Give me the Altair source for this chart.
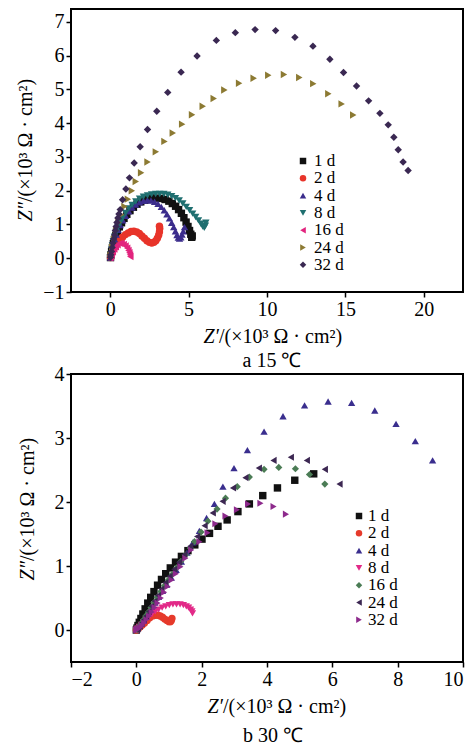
import altair as alt
import pandas as pd

FONT = "Liberation Serif"
LABELS = ["1 d", "2 d", "4 d", "8 d", "16 d", "24 d", "32 d"]

# ---------- panel a: 15 °C ----------
A1_x = [0.02, 0.05, 0.09, 0.14, 0.2, 0.27, 0.36, 0.46, 0.58, 0.72, 0.88, 1.06, 1.26, 1.48, 1.71, 1.95, 2.2, 2.45, 2.7, 2.95,
        3.25, 3.5, 3.74, 3.96, 4.17, 4.36, 4.54, 4.7, 4.84, 4.96, 5.06, 5.14, 5.2, 5.23]
A1_y = [0.02, 0.1, 0.2, 0.31, 0.43, 0.55, 0.68, 0.8, 0.93, 1.05, 1.18, 1.3, 1.41, 1.51, 1.6, 1.67, 1.72, 1.76, 1.78, 1.78,
        1.77, 1.74, 1.69, 1.62, 1.54, 1.44, 1.33, 1.2, 1.07, 0.94, 0.82, 0.71, 0.62, 0.66]
A2_x = [0.02, 0.05, 0.1, 0.17, 0.26, 0.37, 0.5, 0.64, 0.8, 0.97, 1.15, 1.33, 1.51, 1.69, 1.86, 2.02, 2.18, 2.34, 2.5, 2.65,
        2.79, 2.91, 3.01, 3.09, 3.14, 3.16, 3.14]
A2_y = [0.02, 0.08, 0.15, 0.23, 0.31, 0.39, 0.47, 0.55, 0.63, 0.7, 0.75, 0.79, 0.8, 0.78, 0.73, 0.66, 0.59, 0.52, 0.47, 0.45,
        0.47, 0.52, 0.59, 0.68, 0.78, 0.88, 0.95]
A4_x = [0.02, 0.05, 0.09, 0.14, 0.2, 0.28, 0.38, 0.5, 0.64, 0.8, 0.98, 1.18, 1.4, 1.63, 1.87, 2.12, 2.37, 2.6, 2.83, 3.05,
        3.26, 3.45, 3.62, 3.78, 3.92, 4.05, 4.16, 4.26, 4.34, 4.42, 4.5, 4.58, 4.66, 4.74]
A4_y = [0.02, 0.1, 0.2, 0.31, 0.43, 0.56, 0.7, 0.84, 0.98, 1.12, 1.26, 1.39, 1.5, 1.59, 1.66, 1.7, 1.72, 1.71, 1.67, 1.61,
        1.52, 1.42, 1.3, 1.18, 1.05, 0.92, 0.8, 0.69, 0.61, 0.58, 0.62, 0.7, 0.8, 0.92]
A8_x = [0.02, 0.05, 0.09, 0.14, 0.2, 0.28, 0.38, 0.5, 0.64, 0.8, 0.98, 1.18, 1.4, 1.63, 1.87, 2.12, 2.38, 2.64, 2.9, 3.16,
        3.42, 3.67, 3.92, 4.16, 4.4, 4.63, 4.85, 5.06, 5.26, 5.45, 5.63, 5.78, 5.9, 6.0, 6.07, 6.1]
A8_y = [0.02, 0.12, 0.25, 0.38, 0.5, 0.64, 0.78, 0.92, 1.06, 1.2, 1.34, 1.47, 1.58, 1.68, 1.76, 1.82, 1.86, 1.89, 1.9, 1.9,
        1.9, 1.88, 1.84, 1.78, 1.71, 1.62, 1.52, 1.42, 1.32, 1.22, 1.12, 1.02, 0.94, 0.9, 0.96, 1.05]
A16_x = [0.01, 0.05, 0.1, 0.17, 0.26, 0.36, 0.47, 0.6, 0.73, 0.86, 0.98, 1.08, 1.16, 1.22, 1.26, 1.28]
A16_y = [0.01, 0.06, 0.12, 0.19, 0.27, 0.34, 0.4, 0.44, 0.44, 0.41, 0.36, 0.3, 0.23, 0.16, 0.1, 0.05]
A24_x = [0.04, 0.13, 0.25, 0.38, 0.53, 0.7, 0.91, 1.13, 1.38, 1.63, 1.97, 2.38, 2.91, 3.46, 3.99, 4.59, 5.22, 5.9, 6.6, 7.28,
         8.22, 9.15, 10.08, 11.08, 12.06, 12.95, 13.91, 14.76, 15.5]
A24_y = [0.1, 0.33, 0.57, 0.82, 1.06, 1.29, 1.53, 1.75, 2.0, 2.27, 2.53, 2.85, 3.15, 3.46, 3.71, 3.97, 4.25, 4.5, 4.73, 4.98,
         5.18, 5.33, 5.42, 5.44, 5.35, 5.17, 4.87, 4.57, 4.24]
A32_x = [0.02, 0.04, 0.08, 0.12, 0.17, 0.22, 0.28, 0.33, 0.38, 0.43, 0.49, 0.56, 0.64, 0.79, 1.0, 1.23, 1.53, 1.91, 2.38, 2.97,
         3.67, 4.52, 5.54, 6.77, 7.98, 9.24, 10.55, 11.78, 12.93, 14.01, 14.88, 15.71, 16.48, 17.2, 17.73, 18.09, 18.37, 18.68, 19.0]
A32_y = [0.03, 0.1, 0.2, 0.32, 0.45, 0.57, 0.69, 0.82, 0.94, 1.06, 1.19, 1.31, 1.44, 1.73, 2.05, 2.38, 2.82, 3.3, 3.81, 4.35,
         4.91, 5.51, 5.99, 6.45, 6.68, 6.77, 6.74, 6.54, 6.28, 5.89, 5.5, 5.1, 4.66, 4.29, 3.95, 3.58, 3.21, 2.85, 2.6]

# ---------- panel b: 30 °C ----------
B1_x = [0.0, 0.02, 0.05, 0.09, 0.14, 0.2, 0.27, 0.35, 0.44, 0.54, 0.65, 0.77, 0.9, 1.04, 1.2, 1.38, 1.58, 1.79, 2.01, 2.24,
        2.5, 2.78, 3.11, 3.46, 3.87, 4.32, 4.85, 5.43]
B1_y = [0.0, 0.03, 0.07, 0.12, 0.18, 0.25, 0.33, 0.42, 0.51, 0.6, 0.7, 0.79, 0.88, 0.97, 1.06, 1.15, 1.24, 1.33, 1.42, 1.51,
        1.62, 1.72, 1.85, 1.97, 2.1, 2.22, 2.34, 2.44]
B2_x = [0.0, 0.03, 0.07, 0.12, 0.18, 0.25, 0.33, 0.41, 0.5, 0.58, 0.66, 0.73, 0.8, 0.87, 0.94, 1.0, 1.04, 1.07, 1.09]
B2_y = [0.0, 0.01, 0.03, 0.05, 0.08, 0.11, 0.15, 0.19, 0.22, 0.23, 0.23, 0.22, 0.2, 0.17, 0.15, 0.13, 0.13, 0.15, 0.18]
B4_x = [0.01, 0.04, 0.09, 0.15, 0.22, 0.3, 0.38, 0.47, 0.57, 0.68, 0.8, 0.93, 1.07, 1.22, 1.38, 1.55, 1.73, 1.93, 2.15, 2.39,
        2.65, 2.99, 3.4, 3.91, 4.49, 5.15, 5.87, 6.59, 7.3, 7.95, 8.54, 9.07]
B4_y = [0.01, 0.03, 0.06, 0.1, 0.15, 0.21, 0.28, 0.35, 0.43, 0.52, 0.61, 0.71, 0.82, 0.94, 1.07, 1.21, 1.37, 1.55, 1.75, 1.97,
        2.24, 2.53, 2.81, 3.1, 3.34, 3.51, 3.57, 3.55, 3.43, 3.22, 2.95, 2.65]
B8_x = [0.0, 0.04, 0.09, 0.15, 0.22, 0.3, 0.39, 0.48, 0.58, 0.68, 0.79, 0.9, 1.01, 1.12, 1.23, 1.34, 1.44, 1.53, 1.6, 1.66,
        1.7, 1.72]
B8_y = [0.0, 0.02, 0.05, 0.08, 0.12, 0.16, 0.2, 0.25, 0.29, 0.32, 0.35, 0.37, 0.39, 0.4, 0.4, 0.4, 0.39, 0.37, 0.35, 0.32,
        0.29, 0.26]
B16_x = [0.02, 0.05, 0.1, 0.16, 0.22, 0.29, 0.37, 0.45, 0.54, 0.64, 0.75, 0.86, 0.98, 1.1, 1.23, 1.36, 1.5, 1.65, 1.78, 1.98,
         2.19, 2.47, 2.73, 3.09, 3.46, 3.91, 4.36, 4.87, 5.3, 5.77]
B16_y = [0.01, 0.03, 0.07, 0.11, 0.16, 0.22, 0.28, 0.35, 0.43, 0.51, 0.6, 0.69, 0.78, 0.87, 0.97, 1.07, 1.17, 1.28, 1.38, 1.53,
         1.7, 1.89, 2.06, 2.24, 2.39, 2.51, 2.54, 2.52, 2.43, 2.28]
B24_x = [0.02, 0.05, 0.1, 0.16, 0.23, 0.3, 0.38, 0.46, 0.56, 0.66, 0.77, 0.89, 1.02, 1.16, 1.31, 1.47, 1.65, 1.86, 2.09, 2.34,
         2.64, 2.96, 3.34, 3.75, 4.2, 4.73, 5.22, 5.77, 6.22]
B24_y = [0.01, 0.03, 0.06, 0.11, 0.16, 0.22, 0.29, 0.37, 0.45, 0.54, 0.64, 0.74, 0.84, 0.95, 1.06, 1.18, 1.31, 1.46, 1.63, 1.83,
         2.01, 2.22, 2.38, 2.53, 2.65, 2.7, 2.65, 2.51, 2.28]
B32_x = [0.0, 0.02, 0.06, 0.11, 0.17, 0.24, 0.31, 0.39, 0.47, 0.56, 0.65, 0.75, 0.85, 0.96, 1.08, 1.21, 1.35, 1.5, 1.68, 1.93,
         2.18, 2.42, 2.73, 3.08, 3.42, 3.8, 4.2, 4.58]
B32_y = [0.0, 0.01, 0.02, 0.04, 0.07, 0.11, 0.16, 0.22, 0.28, 0.35, 0.42, 0.5, 0.59, 0.68, 0.78, 0.88, 0.99, 1.12, 1.25, 1.38,
         1.52, 1.66, 1.78, 1.88, 1.97, 1.98, 1.93, 1.81]

A_COLORS = ["#111111", "#e8342a", "#3b2c8c", "#1f6f70", "#e2247e", "#8c7a33", "#3a2852"]
A_SHAPES = ["square", "circle", "triangle-up", "triangle-down", "triangle-left", "triangle-right", "diamond"]
A_SIZES = [55, 55, 75, 75, 70, 100, 95]
B_COLORS = ["#111111", "#e63a2b", "#3a2e8e", "#e22a88", "#4b7c55", "#3c2752", "#8d2a8c"]
B_SHAPES = ["square", "circle", "triangle-up", "triangle-down", "diamond", "triangle-left", "triangle-right"]
B_SIZES = [55, 50, 110, 70, 85, 95, 95]

A_XTICKS = [0, 5, 10, 15, 20]
A_YTICKS = [-1, 0, 1, 2, 3, 4, 5, 6, 7]
B_XTICKS = [-2, 0, 2, 4, 6, 8, 10]
B_YTICKS = [0, 1, 2, 3, 4]

FS = 20
LFS = 17


def table(series):
    rows = []
    for lab, xs, ys in series:
        for a, b in zip(xs, ys):
            rows.append({"series": lab, "x": a, "y": b})
    return pd.DataFrame(rows)


dfA = table(zip(LABELS, [A1_x, A2_x, A4_x, A8_x, A16_x, A24_x, A32_x],
                [A1_y, A2_y, A4_y, A8_y, A16_y, A24_y, A32_y]))
dfB = table(zip(LABELS, [B1_x, B2_x, B4_x, B8_x, B16_x, B24_x, B32_x],
                [B1_y, B2_y, B4_y, B8_y, B16_y, B24_y, B32_y]))
dfL = pd.DataFrame({"series": LABELS})


def axis(ticks):
    return alt.Axis(values=ticks, title=None, grid=False, domain=False, tickSize=5, tickWidth=1.5,
                    tickColor="black", labelColor="black", labelFont=FONT, labelFontSize=FS,
                    labelPadding=2, format="d")


def txt(s, x, y, angle=0, align="center", italic=False):
    return alt.Chart(pd.DataFrame({"t": [s]})).mark_text(
        font=FONT, fontSize=FS, fontStyle="italic" if italic else "normal",
        align=align, baseline="middle", angle=angle, color="black"
    ).encode(text="t:N", x=alt.value(x), y=alt.value(y))


def panel(df, colors, shapes, sizes, xdom, xticks, ydom, yticks, sx, tx, y0, y1):
    cscale = alt.Scale(domain=LABELS, range=colors)
    sscale = alt.Scale(domain=LABELS, range=shapes)
    pts = alt.Chart(df).mark_point(filled=True, opacity=1, strokeWidth=0).encode(
        x=alt.X("x:Q", scale=alt.Scale(domain=xdom, nice=False, zero=False), axis=axis(xticks)),
        y=alt.Y("y:Q", scale=alt.Scale(domain=ydom, nice=False, zero=False), axis=axis(yticks)),
        color=alt.Color("series:N", scale=cscale, legend=None),
        shape=alt.Shape("series:N", scale=sscale, legend=None),
        size=alt.Size("series:N", scale=alt.Scale(domain=LABELS, range=sizes), legend=None),
    )
    rows = alt.Y("series:N", scale=alt.Scale(type="point", domain=LABELS, range=[y0, y1], padding=0), axis=None)
    lsym = alt.Chart(dfL).mark_point(filled=True, opacity=1, strokeWidth=0, size=42).encode(
        x=alt.value(sx), y=rows,
        color=alt.Color("series:N", scale=cscale, legend=None),
        shape=alt.Shape("series:N", scale=sscale, legend=None),
    )
    ltxt = alt.Chart(dfL).mark_text(font=FONT, fontSize=LFS, align="left", baseline="middle",
                                    color="black").encode(x=alt.value(tx), y=rows, text="series:N")
    return [pts, lsym, ltxt]


top = alt.layer(
    *panel(dfA, A_COLORS, A_SHAPES, A_SIZES, [-2.5, 22.5], A_XTICKS, [-1, 7.38], A_YTICKS,
           232, 243, 152, 255.8),
    txt("Z′", 148, 328, align="right", italic=True),
    txt("/(×10³ Ω · cm²)", 148, 328, align="left"),
    txt("Z″", -45, 193, angle=270, align="right", italic=True),
    txt("/(×10³ Ω · cm²)", -45, 193, angle=270, align="left"),
).resolve_scale(y="independent").properties(width=392, height=283)

bottom = alt.layer(
    *panel(dfB, B_COLORS, B_SHAPES, B_SIZES, [-2, 10], B_XTICKS, [-0.5, 4], B_YTICKS,
           288, 297, 142, 245.8),
    txt("a  15 ℃", 201, -13),
    txt("Z′", 152, 333, align="right", italic=True),
    txt("/(×10³ Ω · cm²)", 152, 333, align="left"),
    txt("b  30 ℃", 202, 362),
    txt("Z″", -43, 187, angle=270, align="right", italic=True),
    txt("/(×10³ Ω · cm²)", -43, 187, angle=270, align="left"),
).resolve_scale(y="independent").properties(width=392, height=288)

chart = alt.vconcat(top, bottom, spacing=2).resolve_scale(
    color="independent", shape="independent", size="independent", x="independent", y="independent"
).properties(
    padding={"left": 6, "top": 0, "right": 0, "bottom": 0}
).configure_view(stroke="black", strokeWidth=2)

chart.save("out.html", embed_options={"renderer": "svg", "actions": False})
